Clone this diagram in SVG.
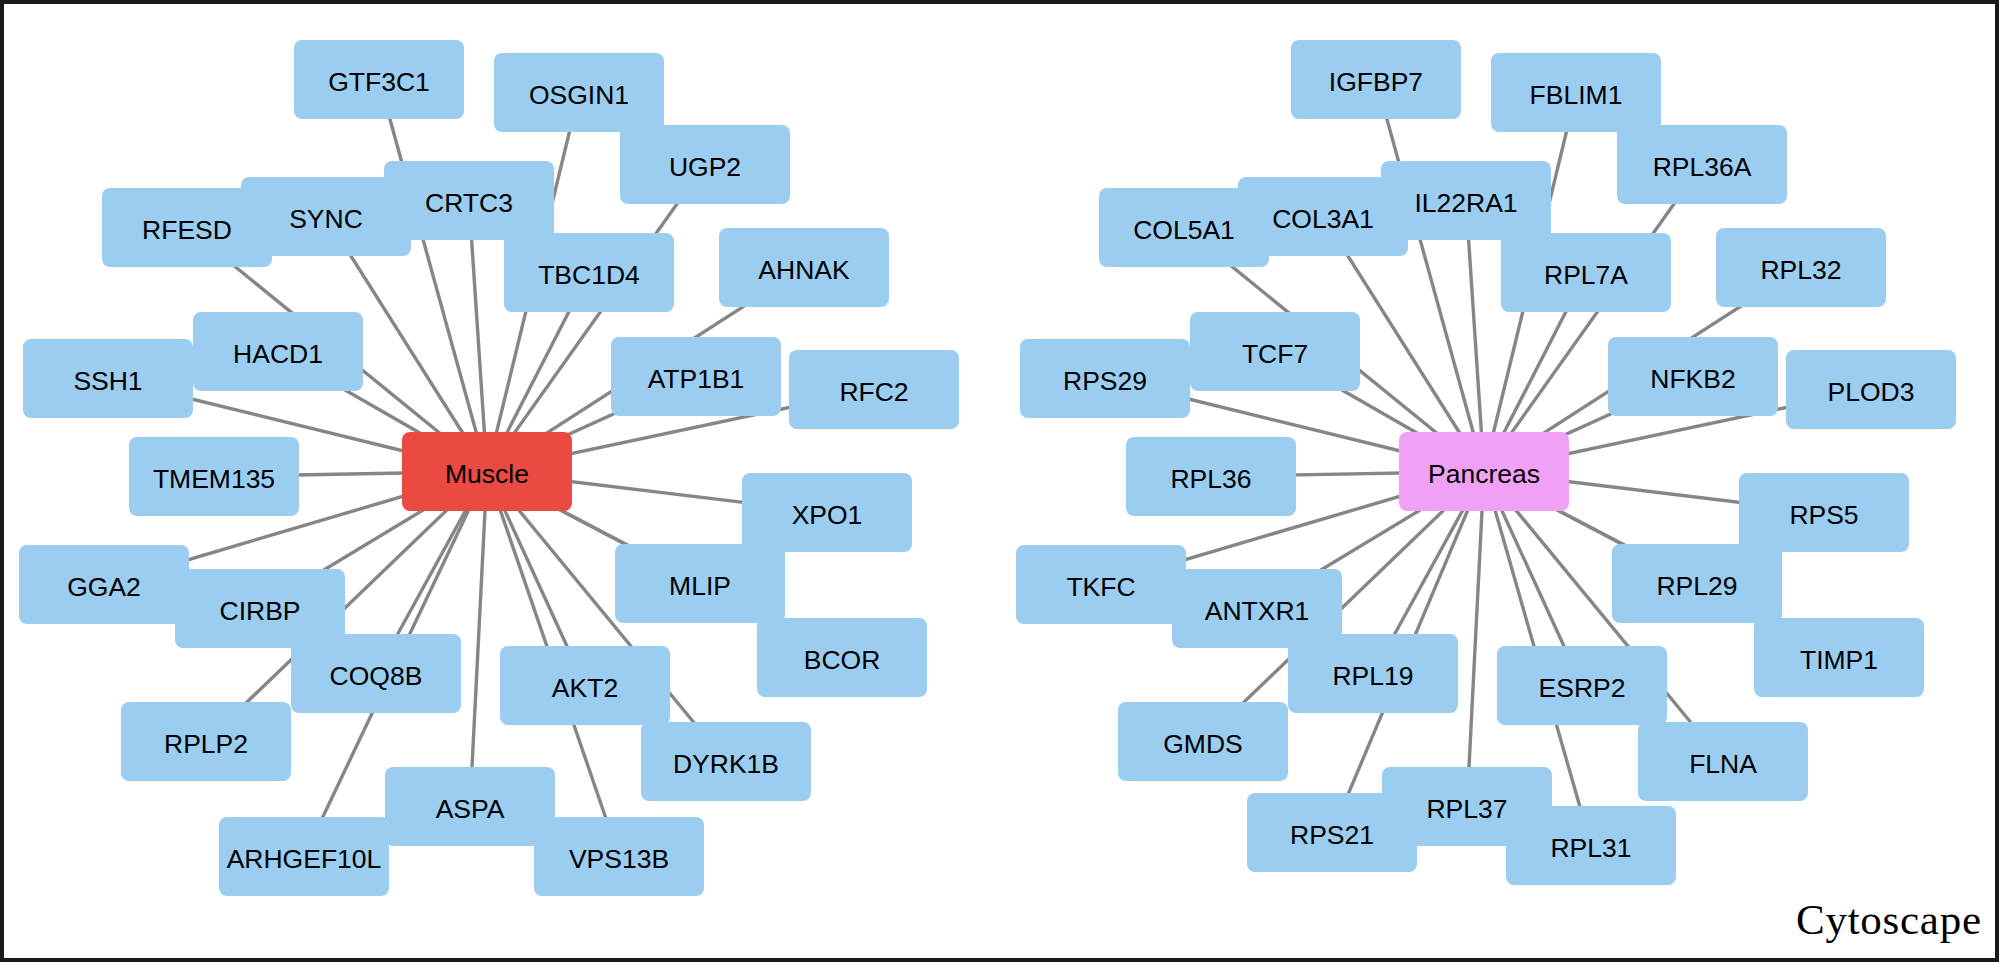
<svg xmlns="http://www.w3.org/2000/svg" width="1999" height="962" viewBox="0 0 1999 962">
<style>
.edge{stroke:#868686;stroke-width:3.4;fill:none}
.node rect{fill:#9BCDF0}
.hub-m rect{fill:#EA4A41}
.hub-p rect{fill:#F0A0F5}
text.lbl{font-family:"Liberation Sans",Arial,Helvetica,sans-serif;font-size:26.5px;fill:#000;text-anchor:middle}
</style>
<rect x="2" y="2" width="1995" height="958" fill="#ffffff" stroke="#1a1a1a" stroke-width="4"/>
<g id="edges">
<line class="edge" x1="487" y1="471.5" x2="379" y2="79.5"/>
<line class="edge" x1="487" y1="471.5" x2="579" y2="92.5"/>
<line class="edge" x1="487" y1="471.5" x2="705" y2="164.5"/>
<line class="edge" x1="487" y1="471.5" x2="469" y2="200.5"/>
<line class="edge" x1="487" y1="471.5" x2="326" y2="216.5"/>
<line class="edge" x1="487" y1="471.5" x2="187" y2="227.5"/>
<line class="edge" x1="487" y1="471.5" x2="589" y2="272.5"/>
<line class="edge" x1="487" y1="471.5" x2="804" y2="267.5"/>
<line class="edge" x1="487" y1="471.5" x2="278" y2="351.5"/>
<line class="edge" x1="487" y1="471.5" x2="108" y2="378.5"/>
<line class="edge" x1="487" y1="471.5" x2="696" y2="376.5"/>
<line class="edge" x1="487" y1="471.5" x2="874" y2="389.5"/>
<line class="edge" x1="487" y1="471.5" x2="214" y2="476.5"/>
<line class="edge" x1="487" y1="471.5" x2="827" y2="512.5"/>
<line class="edge" x1="487" y1="471.5" x2="104" y2="584.5"/>
<line class="edge" x1="487" y1="471.5" x2="260" y2="608.5"/>
<line class="edge" x1="487" y1="471.5" x2="700" y2="583.5"/>
<line class="edge" x1="487" y1="471.5" x2="842" y2="657.5"/>
<line class="edge" x1="487" y1="471.5" x2="376" y2="673.5"/>
<line class="edge" x1="487" y1="471.5" x2="585" y2="685.5"/>
<line class="edge" x1="487" y1="471.5" x2="206" y2="741.5"/>
<line class="edge" x1="487" y1="471.5" x2="726" y2="761.5"/>
<line class="edge" x1="487" y1="471.5" x2="470" y2="806.5"/>
<line class="edge" x1="487" y1="471.5" x2="304" y2="856.5"/>
<line class="edge" x1="487" y1="471.5" x2="619" y2="856.5"/>
<line class="edge" x1="1484" y1="471.5" x2="1376" y2="79.5"/>
<line class="edge" x1="1484" y1="471.5" x2="1576" y2="92.5"/>
<line class="edge" x1="1484" y1="471.5" x2="1702" y2="164.5"/>
<line class="edge" x1="1484" y1="471.5" x2="1466" y2="200.5"/>
<line class="edge" x1="1484" y1="471.5" x2="1323" y2="216.5"/>
<line class="edge" x1="1484" y1="471.5" x2="1184" y2="227.5"/>
<line class="edge" x1="1484" y1="471.5" x2="1586" y2="272.5"/>
<line class="edge" x1="1484" y1="471.5" x2="1801" y2="267.5"/>
<line class="edge" x1="1484" y1="471.5" x2="1275" y2="351.5"/>
<line class="edge" x1="1484" y1="471.5" x2="1105" y2="378.5"/>
<line class="edge" x1="1484" y1="471.5" x2="1693" y2="376.5"/>
<line class="edge" x1="1484" y1="471.5" x2="1871" y2="389.5"/>
<line class="edge" x1="1484" y1="471.5" x2="1211" y2="476.5"/>
<line class="edge" x1="1484" y1="471.5" x2="1824" y2="512.5"/>
<line class="edge" x1="1484" y1="471.5" x2="1101" y2="584.5"/>
<line class="edge" x1="1484" y1="471.5" x2="1257" y2="608.5"/>
<line class="edge" x1="1484" y1="471.5" x2="1697" y2="583.5"/>
<line class="edge" x1="1484" y1="471.5" x2="1839" y2="657.5"/>
<line class="edge" x1="1484" y1="471.5" x2="1373" y2="673.5"/>
<line class="edge" x1="1484" y1="471.5" x2="1582" y2="685.5"/>
<line class="edge" x1="1484" y1="471.5" x2="1203" y2="741.5"/>
<line class="edge" x1="1484" y1="471.5" x2="1723" y2="761.5"/>
<line class="edge" x1="1484" y1="471.5" x2="1467" y2="806.5"/>
<line class="edge" x1="1484" y1="471.5" x2="1332" y2="832.5"/>
<line class="edge" x1="1484" y1="471.5" x2="1591" y2="845.5"/>
</g>
<g id="n-GTF3C1" class="node" transform="translate(294,40)"><rect width="170" height="79" rx="8"/><text class="lbl" x="85" y="50.5">GTF3C1</text></g>
<g id="n-OSGIN1" class="node" transform="translate(494,53)"><rect width="170" height="79" rx="8"/><text class="lbl" x="85" y="50.5">OSGIN1</text></g>
<g id="n-UGP2" class="node" transform="translate(620,125)"><rect width="170" height="79" rx="8"/><text class="lbl" x="85" y="50.5">UGP2</text></g>
<g id="n-RFESD" class="node" transform="translate(102,188)"><rect width="170" height="79" rx="8"/><text class="lbl" x="85" y="50.5">RFESD</text></g>
<g id="n-SYNC" class="node" transform="translate(241,177)"><rect width="170" height="79" rx="8"/><text class="lbl" x="85" y="50.5">SYNC</text></g>
<g id="n-CRTC3" class="node" transform="translate(384,161)"><rect width="170" height="79" rx="8"/><text class="lbl" x="85" y="50.5">CRTC3</text></g>
<g id="n-TBC1D4" class="node" transform="translate(504,233)"><rect width="170" height="79" rx="8"/><text class="lbl" x="85" y="50.5">TBC1D4</text></g>
<g id="n-AHNAK" class="node" transform="translate(719,228)"><rect width="170" height="79" rx="8"/><text class="lbl" x="85" y="50.5">AHNAK</text></g>
<g id="n-SSH1" class="node" transform="translate(23,339)"><rect width="170" height="79" rx="8"/><text class="lbl" x="85" y="50.5">SSH1</text></g>
<g id="n-HACD1" class="node" transform="translate(193,312)"><rect width="170" height="79" rx="8"/><text class="lbl" x="85" y="50.5">HACD1</text></g>
<g id="n-ATP1B1" class="node" transform="translate(611,337)"><rect width="170" height="79" rx="8"/><text class="lbl" x="85" y="50.5">ATP1B1</text></g>
<g id="n-RFC2" class="node" transform="translate(789,350)"><rect width="170" height="79" rx="8"/><text class="lbl" x="85" y="50.5">RFC2</text></g>
<g id="n-TMEM135" class="node" transform="translate(129,437)"><rect width="170" height="79" rx="8"/><text class="lbl" x="85" y="50.5">TMEM135</text></g>
<g id="n-XPO1" class="node" transform="translate(742,473)"><rect width="170" height="79" rx="8"/><text class="lbl" x="85" y="50.5">XPO1</text></g>
<g id="n-GGA2" class="node" transform="translate(19,545)"><rect width="170" height="79" rx="8"/><text class="lbl" x="85" y="50.5">GGA2</text></g>
<g id="n-CIRBP" class="node" transform="translate(175,569)"><rect width="170" height="79" rx="8"/><text class="lbl" x="85" y="50.5">CIRBP</text></g>
<g id="n-MLIP" class="node" transform="translate(615,544)"><rect width="170" height="79" rx="8"/><text class="lbl" x="85" y="50.5">MLIP</text></g>
<g id="n-BCOR" class="node" transform="translate(757,618)"><rect width="170" height="79" rx="8"/><text class="lbl" x="85" y="50.5">BCOR</text></g>
<g id="n-COQ8B" class="node" transform="translate(291,634)"><rect width="170" height="79" rx="8"/><text class="lbl" x="85" y="50.5">COQ8B</text></g>
<g id="n-AKT2" class="node" transform="translate(500,646)"><rect width="170" height="79" rx="8"/><text class="lbl" x="85" y="50.5">AKT2</text></g>
<g id="n-RPLP2" class="node" transform="translate(121,702)"><rect width="170" height="79" rx="8"/><text class="lbl" x="85" y="50.5">RPLP2</text></g>
<g id="n-DYRK1B" class="node" transform="translate(641,722)"><rect width="170" height="79" rx="8"/><text class="lbl" x="85" y="50.5">DYRK1B</text></g>
<g id="n-ASPA" class="node" transform="translate(385,767)"><rect width="170" height="79" rx="8"/><text class="lbl" x="85" y="50.5">ASPA</text></g>
<g id="n-ARHGEF10L" class="node" transform="translate(219,817)"><rect width="170" height="79" rx="8"/><text class="lbl" x="85" y="50.5">ARHGEF10L</text></g>
<g id="n-VPS13B" class="node" transform="translate(534,817)"><rect width="170" height="79" rx="8"/><text class="lbl" x="85" y="50.5">VPS13B</text></g>
<g id="n-Muscle" class="hub-m" transform="translate(402,432)"><rect width="170" height="79" rx="8"/><text class="lbl" x="85" y="50.5">Muscle</text></g>
<g id="n-IGFBP7" class="node" transform="translate(1291,40)"><rect width="170" height="79" rx="8"/><text class="lbl" x="85" y="50.5">IGFBP7</text></g>
<g id="n-FBLIM1" class="node" transform="translate(1491,53)"><rect width="170" height="79" rx="8"/><text class="lbl" x="85" y="50.5">FBLIM1</text></g>
<g id="n-RPL36A" class="node" transform="translate(1617,125)"><rect width="170" height="79" rx="8"/><text class="lbl" x="85" y="50.5">RPL36A</text></g>
<g id="n-COL5A1" class="node" transform="translate(1099,188)"><rect width="170" height="79" rx="8"/><text class="lbl" x="85" y="50.5">COL5A1</text></g>
<g id="n-COL3A1" class="node" transform="translate(1238,177)"><rect width="170" height="79" rx="8"/><text class="lbl" x="85" y="50.5">COL3A1</text></g>
<g id="n-IL22RA1" class="node" transform="translate(1381,161)"><rect width="170" height="79" rx="8"/><text class="lbl" x="85" y="50.5">IL22RA1</text></g>
<g id="n-RPL7A" class="node" transform="translate(1501,233)"><rect width="170" height="79" rx="8"/><text class="lbl" x="85" y="50.5">RPL7A</text></g>
<g id="n-RPL32" class="node" transform="translate(1716,228)"><rect width="170" height="79" rx="8"/><text class="lbl" x="85" y="50.5">RPL32</text></g>
<g id="n-RPS29" class="node" transform="translate(1020,339)"><rect width="170" height="79" rx="8"/><text class="lbl" x="85" y="50.5">RPS29</text></g>
<g id="n-TCF7" class="node" transform="translate(1190,312)"><rect width="170" height="79" rx="8"/><text class="lbl" x="85" y="50.5">TCF7</text></g>
<g id="n-NFKB2" class="node" transform="translate(1608,337)"><rect width="170" height="79" rx="8"/><text class="lbl" x="85" y="50.5">NFKB2</text></g>
<g id="n-PLOD3" class="node" transform="translate(1786,350)"><rect width="170" height="79" rx="8"/><text class="lbl" x="85" y="50.5">PLOD3</text></g>
<g id="n-RPL36" class="node" transform="translate(1126,437)"><rect width="170" height="79" rx="8"/><text class="lbl" x="85" y="50.5">RPL36</text></g>
<g id="n-RPS5" class="node" transform="translate(1739,473)"><rect width="170" height="79" rx="8"/><text class="lbl" x="85" y="50.5">RPS5</text></g>
<g id="n-TKFC" class="node" transform="translate(1016,545)"><rect width="170" height="79" rx="8"/><text class="lbl" x="85" y="50.5">TKFC</text></g>
<g id="n-ANTXR1" class="node" transform="translate(1172,569)"><rect width="170" height="79" rx="8"/><text class="lbl" x="85" y="50.5">ANTXR1</text></g>
<g id="n-RPL29" class="node" transform="translate(1612,544)"><rect width="170" height="79" rx="8"/><text class="lbl" x="85" y="50.5">RPL29</text></g>
<g id="n-TIMP1" class="node" transform="translate(1754,618)"><rect width="170" height="79" rx="8"/><text class="lbl" x="85" y="50.5">TIMP1</text></g>
<g id="n-RPL19" class="node" transform="translate(1288,634)"><rect width="170" height="79" rx="8"/><text class="lbl" x="85" y="50.5">RPL19</text></g>
<g id="n-ESRP2" class="node" transform="translate(1497,646)"><rect width="170" height="79" rx="8"/><text class="lbl" x="85" y="50.5">ESRP2</text></g>
<g id="n-GMDS" class="node" transform="translate(1118,702)"><rect width="170" height="79" rx="8"/><text class="lbl" x="85" y="50.5">GMDS</text></g>
<g id="n-FLNA" class="node" transform="translate(1638,722)"><rect width="170" height="79" rx="8"/><text class="lbl" x="85" y="50.5">FLNA</text></g>
<g id="n-RPL37" class="node" transform="translate(1382,767)"><rect width="170" height="79" rx="8"/><text class="lbl" x="85" y="50.5">RPL37</text></g>
<g id="n-RPS21" class="node" transform="translate(1247,793)"><rect width="170" height="79" rx="8"/><text class="lbl" x="85" y="50.5">RPS21</text></g>
<g id="n-RPL31" class="node" transform="translate(1506,806)"><rect width="170" height="79" rx="8"/><text class="lbl" x="85" y="50.5">RPL31</text></g>
<g id="n-Pancreas" class="hub-p" transform="translate(1399,432)"><rect width="170" height="79" rx="8"/><text class="lbl" x="85" y="50.5">Pancreas</text></g>
<text x="1796" y="934" font-family="'Liberation Serif','Times New Roman',serif" font-size="43" textLength="185" lengthAdjust="spacing" fill="#000">Cytoscape</text>
</svg>
